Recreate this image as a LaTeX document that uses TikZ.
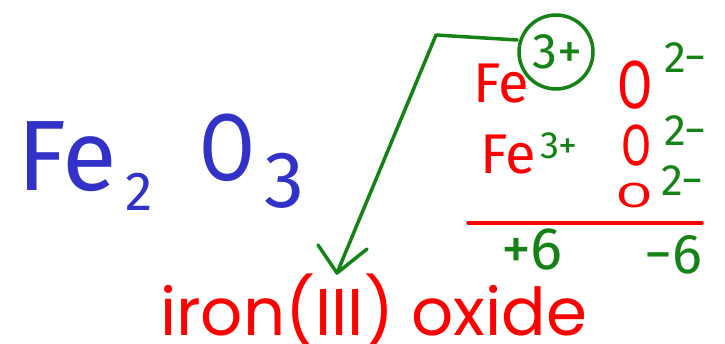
\documentclass[tikz,border=0pt]{standalone}
\usepackage{fontspec}
\setmainfont{Fira Sans}
\newfontfamily\typed{Poppins}
\definecolor{inkblue}{RGB}{50,50,200}
\definecolor{inkred}{RGB}{255,0,0}
\definecolor{inkgreen}{RGB}{20,130,20}
\newcommand{\fs}[1]{\fontsize{#1}{#1}\selectfont}
\begin{document}
\begin{tikzpicture}[x=1pt,y=-1pt,
  hand/.style={inner sep=0pt,outer sep=0pt},
  bluetxt/.style={hand,text=inkblue},
  redtxt/.style={hand,text=inkred},
  greentxt/.style={hand,text=inkgreen},
  greenline/.style={draw=inkgreen,line width=3.5pt,line cap=round,line join=round},
  redline/.style={draw=inkred,line width=3.5pt,line cap=round}]
\useasboundingbox (0,0) rectangle (725,343);
% blue formula
\node[bluetxt,anchor=base west] (fe) at (17,190) {\fs{100}Fe};
\node[bluetxt,anchor=base west] (two) at (125,210) {\fs{55}2};
\node[bluetxt,anchor=base] (o) at (227,180) {\scalebox{0.85}[1]{\fs{95}O}};
\node[bluetxt,anchor=base] (three) at (284,207) {\fs{80}3};
% ions, row 1
\node[redtxt,anchor=base west] (fe1) at (473,102) {\fs{56}Fe};
\node[draw=inkgreen,line width=3.5pt,circle,minimum size=74pt,inner sep=0pt] (circ) at (556,52) {};
\node[greentxt] (c3) at (557,52) {\fs{50}3+};
\node[redtxt,anchor=base] (o1) at (635,108) {\scalebox{0.75}[1]{\fs{68}O}};
\node[greentxt,anchor=base west] (q1) at (664,72) {\fs{44}2−};
% row 2
\node[redtxt,anchor=base west] (fe2) at (480,173) {\fs{56}Fe};
\node[greentxt,anchor=base west] (c32) at (540,158) {\fs{38}3+};
\node[redtxt,anchor=base] (o2) at (637,165) {\scalebox{0.75}[1]{\fs{58}O}};
\node[greentxt,anchor=base west] (q2) at (664,145) {\fs{44}2−};
% row 3
\node[redtxt,anchor=base] (o3) at (635,207) {\scalebox{0.9}[0.6]{\fs{58}O}};
\node[greentxt,anchor=base west] (q3) at (661,195) {\fs{44}2−};
% sum line
\coordinate (la) at (468,223);
\coordinate (lb) at (702,223);
\draw[redline] (la) -- (lb);
\node[greentxt] (p6) at (532,249) {\fs{60}+6};
\node[greentxt] (m6) at (673,255) {\fs{56}−6};
% name
\node[redtxt,anchor=base west] (name) at (160,335) {\typed\fs{66}iron(III) oxide};
% arrow
\coordinate (corner) at (436,35);
\coordinate (tip) at (337,273);
\coordinate (wl) at (318,245);
\coordinate (wr) at (367,249);
\draw[greenline] (circ.west |- 0,40) -- (corner) -- (tip);
\draw[greenline] (wl) -- (tip) -- (wr);
\end{tikzpicture}
\end{document}
